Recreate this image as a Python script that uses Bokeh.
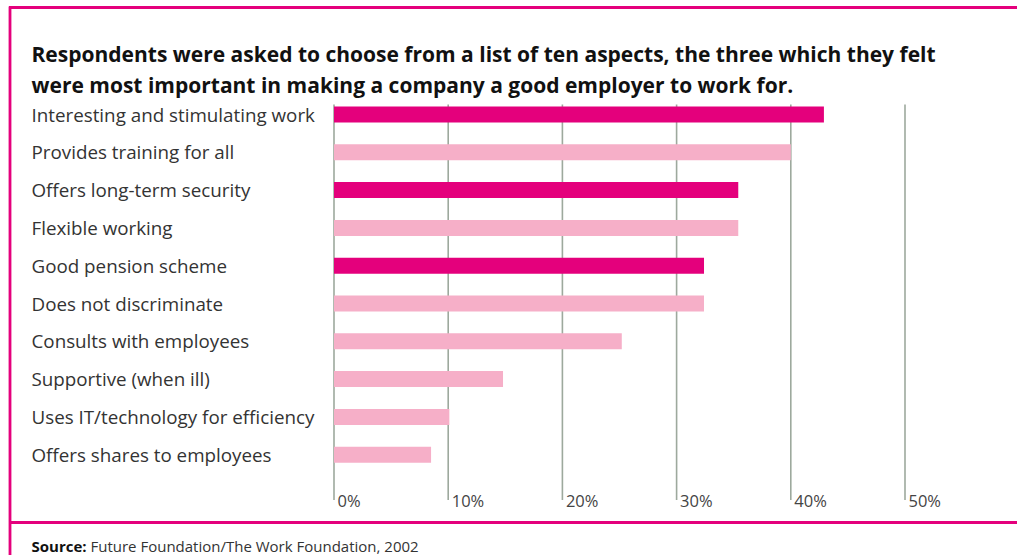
from bokeh.plotting import figure
from bokeh.models import Range1d, ColumnDataSource
from bokeh.core.properties import value
from bokeh.embed import file_html
from bokeh.resources import INLINE

# ---- data ----
categories = [
    "Interesting and stimulating work",
    "Provides training for all",
    "Offers long-term security",
    "Flexible working",
    "Good pension scheme",
    "Does not discriminate",
    "Consults with employees",
    "Supportive (when ill)",
    "Uses IT/technology for efficiency",
    "Offers shares to employees",
]
percent = [42.9, 40.0, 35.4, 35.4, 32.4, 32.4, 25.2, 14.8, 10.1, 8.5]
highlight = [True, False, True, False, True, False, False, False, False, False]
tick_values = [0, 10, 20, 30, 40, 50]
tick_labels = ["0%", "10%", "20%", "30%", "40%", "50%"]
title_lines = [
    "Respondents were asked to choose from a list of ten aspects, the three which they felt",
    "were most important in making a company a good employer to work for.",
]
source_label = "Source:"
source_text = "Future Foundation/The Work Foundation, 2002"

# ---- styling ----
W, H = 1017, 555
MAGENTA = "#E4007C"
PINK = "#F6AFC8"
GRID = "#9DA99D"
FONT = "Open Sans"

# data->pixel layout: x: 0% at 333.5px, 11.42 px per %; rows: first at 114px, step 37.8px
x0_px, x_scale = 333.5, 11.42
row0_px, row_step = 114.0, 37.8

p = figure(width=W, height=H, output_backend="svg", toolbar_location=None,
           x_range=Range1d(-x0_px / x_scale, (W - x0_px) / x_scale),
           y_range=Range1d((H - row0_px) / row_step, -row0_px / row_step),
           min_border=0, min_border_left=0, min_border_right=0,
           min_border_top=0, min_border_bottom=0)
p.axis.visible = False
p.grid.visible = False
p.outline_line_color = None
p.background_fill_color = "white"
p.border_fill_color = "white"
p.extra_x_ranges = {"px": Range1d(0, W)}
p.extra_y_ranges = {"px": Range1d(H, 0)}

rows = list(range(len(categories)))
src = ColumnDataSource(dict(
    y=rows, right=percent, cat=categories,
    color=[MAGENTA if h else PINK for h in highlight],
))

# gridlines (vertical, from top of first bar to the tick labels)
bar_h = 16.0 / row_step
top_y = rows[0] - bar_h / 2 - 0.05
bottom_y = len(categories) - 0.5 + 0.7
p.segment(x0=tick_values, x1=tick_values,
          y0=[top_y] * len(tick_values), y1=[bottom_y] * len(tick_values),
          line_color=GRID, line_width=1.6)

# bars
p.hbar(y="y", left=0, right="right", height=bar_h, fill_color="color",
       line_color=None, source=src)

# category labels
p.text(x=[-x0_px / x_scale + 31 / x_scale] * len(categories), y=rows, text=categories,
       text_font=value(FONT), text_font_size="18.8px", text_color="#333333",
       text_baseline="middle", text_align="left")

# tick labels
p.text(x=[t + 3.5 / x_scale for t in tick_values], y=[bottom_y] * len(tick_values),
       text=tick_labels, text_font=value(FONT), text_font_size="16.5px",
       text_color="#444444", text_baseline="alphabetic", text_align="left")

# title
p.text(x=[31, 31], y=[53, 84], text=title_lines, x_range_name="px", y_range_name="px",
       text_font=value(FONT), text_font_size="21px", text_font_style="bold",
       text_color="#111111", text_baseline="alphabetic", text_align="left")

# source
p.text(x=[31], y=[545], text=[source_label], x_range_name="px", y_range_name="px",
       text_font=value(FONT), text_font_size="15px", text_font_style="bold",
       text_color="#111111", text_baseline="alphabetic", text_align="left")
p.text(x=[90], y=[545], text=[source_text], x_range_name="px", y_range_name="px",
       text_font=value(FONT), text_font_size="15px",
       text_color="#333333", text_baseline="alphabetic", text_align="left")

# frame lines
p.segment(x0=[8.5, 9.5, 8.5], x1=[W, 9.5, W], y0=[7, 6, 522], y1=[7, H, 522],
          x_range_name="px", y_range_name="px", line_color=MAGENTA, line_width=2.8)

open("out.html", "w").write(file_html(p, INLINE))
